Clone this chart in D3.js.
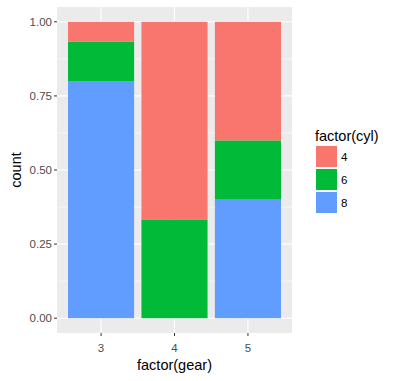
<!DOCTYPE html>
<html>
<head>
<meta charset="utf-8">
<script src="https://cdn.jsdelivr.net/npm/d3@7"></script>
<style>
  body { margin: 0; background: #fff; }
  text { font-family: "Liberation Sans", Arial, sans-serif; }
</style>
</head>
<body>
<div id="chart"></div>
<script>
// mtcars counts, shown as proportions (position = "fill")
var gears = ["3", "4", "5"];
var cyls = ["4", "6", "8"];
var count4 = [1, 8, 2];
var count6 = [2, 4, 1];
var count8 = [12, 0, 2];
var yTicks = [0, 0.25, 0.5, 0.75, 1];
var yMinor = [0.125, 0.375, 0.625, 0.875];
var colors = ["#F8766D", "#00BA38", "#619CFF"];

var width = 395, height = 381;
var panel = { left: 57, right: 292, top: 7, bottom: 333 };

var svg = d3.select('#chart').append('svg')
  .attr('width', width).attr('height', height);

// discrete axis: positions 1..3, expanded by 0.6 each side
var x = d3.scaleLinear().domain([0.4, gears.length + 0.6]).range([panel.left, panel.right]);
var y = d3.scaleLinear().domain([-0.05, 1.05]).range([panel.bottom, panel.top]);

svg.append('rect')
  .attr('x', panel.left).attr('y', panel.top)
  .attr('width', panel.right - panel.left)
  .attr('height', panel.bottom - panel.top)
  .attr('fill', '#EBEBEB');

svg.selectAll('line.minor').data(yMinor).enter().append('line')
  .attr('x1', panel.left).attr('x2', panel.right)
  .attr('y1', function(d) { return y(d); }).attr('y2', function(d) { return y(d); })
  .attr('stroke', '#fff').attr('stroke-width', 0.55);

svg.selectAll('line.majory').data(yTicks).enter().append('line')
  .attr('x1', panel.left).attr('x2', panel.right)
  .attr('y1', function(d) { return y(d); }).attr('y2', function(d) { return y(d); })
  .attr('stroke', '#fff').attr('stroke-width', 1.1);

svg.selectAll('line.majorx').data(gears).enter().append('line')
  .attr('x1', function(d, i) { return x(i + 1); }).attr('x2', function(d, i) { return x(i + 1); })
  .attr('y1', panel.top).attr('y2', panel.bottom)
  .attr('stroke', '#fff').attr('stroke-width', 1.1);

// stacked: 8 at bottom, then 6, then 4 on top
var rows = gears.map(function(g, i) {
  var total = count4[i] + count6[i] + count8[i];
  return { gear: g, idx: i, "4": count4[i] / total, "6": count6[i] / total, "8": count8[i] / total };
});
var series = d3.stack().keys(["8", "6", "4"])(rows);

series.forEach(function(s) {
  var col = colors[cyls.indexOf(s.key)];
  svg.selectAll('rect.c' + s.key).data(s).enter().append('rect')
    .attr('x', function(d) { return x(d.data.idx + 1 - 0.45); })
    .attr('width', x(0.9) - x(0))
    .attr('y', function(d) { return y(d[1]); })
    .attr('height', function(d) { return y(d[0]) - y(d[1]); })
    .attr('fill', col);
});

// y axis
svg.selectAll('line.ytick').data(yTicks).enter().append('line')
  .attr('x1', panel.left - 3).attr('x2', panel.left)
  .attr('y1', function(d) { return y(d); }).attr('y2', function(d) { return y(d); })
  .attr('stroke', '#333').attr('stroke-width', 1);
svg.selectAll('text.ytick').data(yTicks).enter().append('text')
  .attr('x', panel.left - 5)
  .attr('y', function(d) { return y(d) + 4; })
  .attr('text-anchor', 'end')
  .attr('font-size', 11.5).attr('fill', '#4D4D4D')
  .text(function(d) { return d3.format('.2f')(d); });

// x axis
svg.selectAll('line.xtick').data(gears).enter().append('line')
  .attr('x1', function(d, i) { return x(i + 1); }).attr('x2', function(d, i) { return x(i + 1); })
  .attr('y1', panel.bottom).attr('y2', panel.bottom + 3)
  .attr('stroke', '#333').attr('stroke-width', 1);
svg.selectAll('text.xtick').data(gears).enter().append('text')
  .attr('x', function(d, i) { return x(i + 1); })
  .attr('y', panel.bottom + 19)
  .attr('text-anchor', 'middle')
  .attr('font-size', 11.5).attr('fill', '#4D4D4D')
  .text(function(d) { return d; });

svg.append('text')
  .attr('x', (panel.left + panel.right) / 2).attr('y', 370)
  .attr('text-anchor', 'middle').attr('font-size', 14.5)
  .text('factor(gear)');

svg.append('text')
  .attr('transform', 'translate(21,' + ((panel.top + panel.bottom) / 2) + ') rotate(-90)')
  .attr('text-anchor', 'middle').attr('font-size', 14.5)
  .text('count');

// legend
var legend = svg.append('g');
legend.append('text')
  .attr('x', 315).attr('y', 141)
  .attr('font-size', 14.5)
  .text('factor(cyl)');
cyls.forEach(function(c, i) {
  legend.append('rect')
    .attr('x', 316).attr('y', 146 + i * 23)
    .attr('width', 21).attr('height', 21)
    .attr('fill', colors[i]);
  legend.append('text')
    .attr('x', 341).attr('y', 146 + i * 23 + 15)
    .attr('font-size', 11.5).attr('fill', '#000')
    .text(c);
});
</script>
</body>
</html>
